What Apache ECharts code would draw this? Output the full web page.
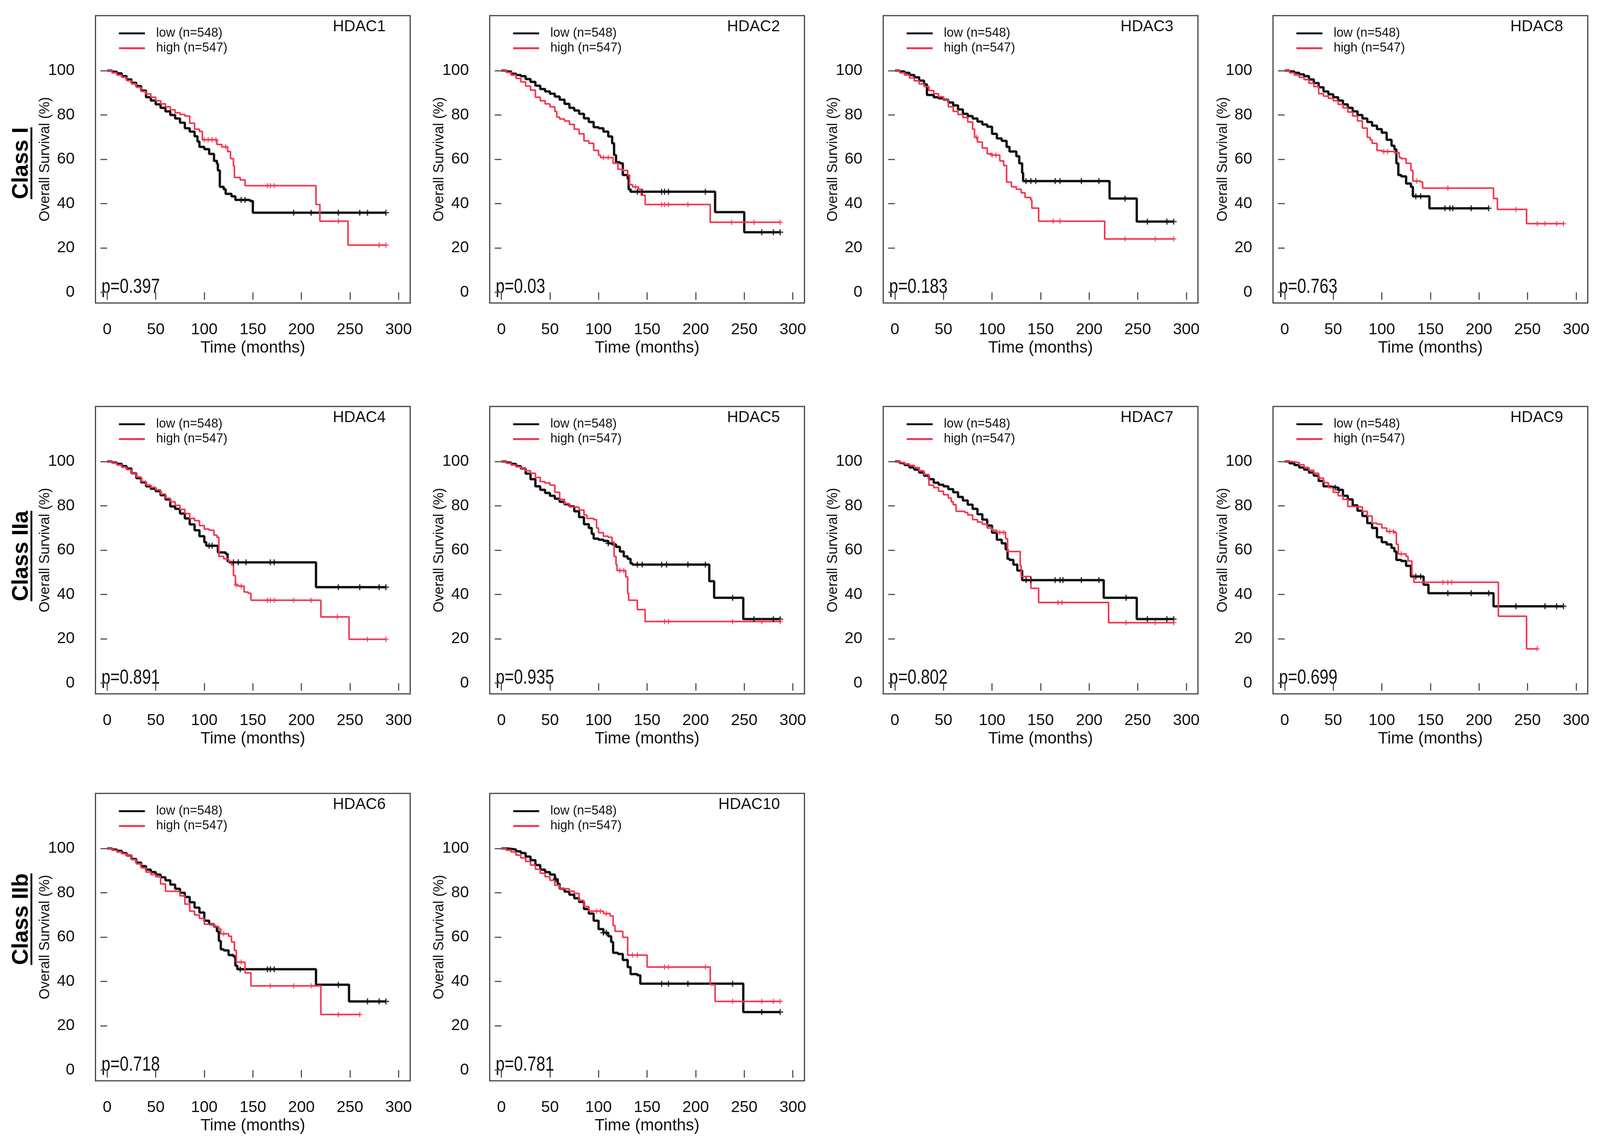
<!DOCTYPE html>
<html><head><meta charset="utf-8">
<script src="https://cdn.jsdelivr.net/npm/echarts@6/dist/echarts.min.js"></script>
<style>html,body{margin:0;padding:0;background:#fff;overflow:hidden}#c{position:absolute;left:0;top:0}</style>
</head><body><div id="c"></div>
<script>
// ---------------- DATA ----------------
const panelNames = ['HDAC1','HDAC2','HDAC3','HDAC8','HDAC4','HDAC5','HDAC7','HDAC9','HDAC6','HDAC10'];
const pValues = ['p=0.397','p=0.03','p=0.183','p=0.763','p=0.891','p=0.935','p=0.802','p=0.699','p=0.718','p=0.781'];
const classLabels = ['Class I','Class IIa','Class IIb'];
const seriesNames = ['low (n=548)','high (n=547)'];
const xTicks = [0,50,100,150,200,250,300];
const yTicks = [0,20,40,60,80,100];

const HDAC1_low = [[0,100],[5,99.5],[10,98.8],[15,97.5],[20,96],[25,94.5],[30,93],[35,91],[40,88],[45,86.5],[50,84.8],[55,83.2],[60,81.6],[65,80],[70,78.4],[75,76.5],[80,74],[85,72.5],[90,70.4],[93,68],[95,65.6],[100,64.6],[105,62.4],[110,59.3],[113,58],[114,55],[116,47.6],[120,46.5],[122,44.4],[128,43.3],[132,41.7],[147,41.2],[150,35.9],[287,35.9]];
const HDAC1_high = [[0,100],[5,99],[10,98],[15,97],[20,95.5],[25,94],[30,92.5],[35,90.6],[40,89.5],[45,88],[50,86.4],[55,85],[60,83.7],[65,82.3],[70,81],[75,80.2],[80,79.5],[85,76.3],[90,73.6],[95,72.6],[98,68.8],[113,66.7],[118,65.6],[124,63.5],[127,60.3],[130,57],[131,51.8],[137,50.7],[142,48.1],[215,39.6],[219,32.1],[248,21.3],[287,21.3]];
const HDAC1_lowCens = [138,142,192,210,238,260,268,287];
const HDAC1_highCens = [100,104,108,112,122,165,168,172,238,280,287];

const HDAC2_low = [[0,100],[5,99.6],[10,98.6],[15,98],[20,97.5],[25,96.2],[30,94.9],[35,93.2],[40,91.7],[45,90.6],[50,89.6],[55,88.3],[60,86.9],[65,85],[70,83.2],[75,82],[80,80.5],[85,78.5],[90,76.8],[95,74.5],[100,74],[105,72.5],[110,70.3],[114,67.2],[116,61.9],[118,58.7],[122,58.2],[125,52.9],[130,51.3],[131,46.5],[133,45.4],[220,36.2],[250,27.1],[287,27.1]];
const HDAC2_high = [[0,100],[5,99.2],[10,98],[15,96.5],[20,94.9],[25,93],[30,91.2],[35,88],[40,86.4],[45,85],[50,83.7],[55,81.6],[57,79],[60,78.2],[65,77.3],[70,75.7],[75,73.6],[80,71.5],[85,68.3],[90,67.2],[95,64],[100,61.9],[102,60.8],[115,58.2],[120,55.5],[125,55],[130,52.9],[132,48.6],[135,47.6],[141,46.5],[144,43.8],[148,39.6],[215,31.6],[287,31.6]];
const HDAC2_lowCens = [140,145,165,168,172,210,268,280,287];
const HDAC2_highCens = [105,110,138,165,168,172,192,237,260,287];

const HDAC3_low = [[0,100],[5,99.6],[10,99],[15,98],[20,97],[25,95.5],[30,93.8],[33,89],[40,88],[45,87.5],[50,86.9],[55,85.6],[60,84.3],[65,82.5],[70,80.5],[75,79.5],[80,78.4],[85,77],[90,75.7],[95,74.7],[100,71.5],[105,69.4],[110,68.3],[115,65.6],[118,63.5],[125,61.4],[128,58.2],[131,53.9],[132,50.2],[221,42.3],[249,31.9],[287,31.9]];
const HDAC3_high = [[0,100],[5,99],[10,98],[15,96.7],[20,95.4],[25,94],[30,92.8],[35,91],[40,89.6],[45,88.2],[50,86.9],[55,83.7],[60,81.6],[65,80.2],[70,78.9],[75,76.8],[80,73.6],[82,69.9],[85,67.8],[90,65.1],[95,62.5],[100,61.9],[108,59.3],[112,57.2],[115,49.7],[120,47.6],[125,46.5],[130,44.9],[134,42.8],[140,41.7],[141,38],[148,32.1],[216,24.1],[287,24.1]];
const HDAC3_lowCens = [135,140,145,165,170,192,210,237,260,280,287];
const HDAC3_highCens = [84,100,104,163,170,237,268,287];

const HDAC8_low = [[0,100],[5,99.6],[10,99],[15,98.3],[20,97.5],[25,96],[30,94.4],[35,92.5],[40,90.6],[45,89.3],[50,88],[55,86.5],[60,84.8],[65,83.2],[70,81.6],[75,80],[80,78.4],[85,76.8],[90,75.2],[95,73.6],[100,72],[105,68.8],[110,66.1],[113,64.5],[115,58.2],[117,52.9],[120,52.3],[125,49.1],[130,47.6],[132,43.3],[149,37.9],[210,37.9]];
const HDAC8_high = [[0,100],[5,99],[10,98],[15,97],[20,95.9],[25,94.3],[30,92.8],[35,89.6],[40,88.5],[45,87.5],[50,86.4],[55,84.8],[60,83.2],[65,81.3],[70,79.5],[75,77.3],[80,74.1],[85,69.9],[88,68.8],[90,67.2],[95,64],[100,63.5],[113,63],[118,60.8],[120,60.3],[125,58.2],[130,55],[132,50.2],[140,49.7],[142,47],[215,42.3],[219,37.4],[249,31],[287,31]];
const HDAC8_lowCens = [135,140,165,170,173,192,210];
const HDAC8_highCens = [102,106,136,168,238,260,268,280,287];

const HDAC4_low = [[0,100],[5,99.5],[10,98.9],[15,97.9],[20,96.8],[25,94.7],[30,92.5],[35,90.6],[40,88.8],[45,87.7],[50,86.6],[55,84.8],[60,82.9],[65,79.7],[70,78.6],[75,76.5],[80,74.3],[85,71.6],[90,69],[95,66.3],[100,63.6],[102,62],[114,59],[122,58.3],[124,55],[126,54.5],[215,43.3],[287,43.3]];
const HDAC4_high = [[0,100],[5,99.3],[10,98.4],[15,97.4],[20,96.3],[25,94.7],[30,93],[35,91],[40,89.3],[45,88.3],[50,87.2],[55,85.3],[60,83.4],[65,81.8],[70,80.2],[75,78.4],[80,76.5],[85,74.3],[90,73.3],[95,71.1],[100,69.5],[105,69],[110,66.8],[113,65.8],[115,57.2],[120,56.1],[125,55],[128,53.4],[130,48.6],[132,44.3],[135,43.8],[141,41.1],[145,40.6],[148,37.4],[220,29.9],[249,19.8],[287,19.8]];
const HDAC4_lowCens = [105,108,130,135,143,168,172,238,260,280,287];
const HDAC4_highCens = [133,138,165,168,172,192,210,237,268,287];

const HDAC5_low = [[0,100],[5,99.5],[10,98.9],[15,97.9],[20,96.8],[25,94.5],[30,92],[35,88.8],[40,87.2],[45,85.8],[50,84.5],[55,83.2],[60,81.8],[65,80.7],[70,79.7],[75,77.5],[80,74.9],[85,71.7],[90,70],[93,67.4],[95,65.2],[100,64.7],[105,64.2],[110,63.1],[114,62.6],[118,61.5],[122,59.4],[126,57.2],[130,56.1],[133,54],[135,53.5],[214,46],[219,38.5],[249,28.9],[287,28.9]];
const HDAC5_high = [[0,100],[5,99.2],[10,98.4],[15,97.6],[20,96.8],[25,95.8],[30,94.7],[35,92.8],[40,90.9],[45,90.3],[50,89.3],[55,86.1],[60,82.9],[65,81],[70,79.5],[78,79.2],[80,78.1],[85,75.9],[88,74.3],[95,73.8],[98,70],[100,67.9],[105,66.3],[110,65.8],[114,63.6],[116,57.2],[118,53.5],[119,50.8],[128,48],[130,40.6],[131,37.4],[140,33.2],[148,27.8],[287,27.8]];
const HDAC5_lowCens = [110,140,145,165,170,192,210,238,260,280,287];
const HDAC5_highCens = [122,126,168,172,238,268,287];

const HDAC7_low = [[0,100],[5,99.3],[10,98.4],[15,97.3],[20,96.3],[25,95],[30,93.6],[35,92],[40,90.4],[45,89.5],[50,88.8],[55,87.5],[60,86.1],[65,84],[70,82.4],[75,80.5],[80,78.6],[85,76.2],[90,73.8],[95,71.1],[100,67.9],[105,64.7],[110,63.1],[114,60.4],[116,56.1],[118,55.6],[122,53.5],[126,50.8],[131,46.5],[215,38.5],[249,28.9],[287,28.9]];
const HDAC7_high = [[0,100],[5,99.5],[10,98.9],[15,98.2],[20,97.3],[25,95.8],[30,94.1],[35,89.3],[40,88.2],[45,86.6],[50,85],[55,83.5],[58,81.8],[60,80.5],[63,77.5],[72,77],[75,75.9],[80,73.8],[85,72.7],[90,71.7],[95,70],[100,69],[105,68],[114,65.2],[116,59.4],[129,53],[130,48.1],[140,42.8],[148,36.4],[220,27.3],[287,27.3]];
const HDAC7_lowCens = [135,140,165,170,173,192,210,238,260,280,287];
const HDAC7_highCens = [108,112,168,172,238,268,287];

const HDAC9_low = [[0,100],[5,99.2],[10,98.4],[15,97.3],[20,96.3],[25,95],[30,93.6],[35,91.2],[40,88.8],[45,88.5],[50,88.2],[55,87.2],[60,84.5],[65,82.9],[70,80.2],[75,77.8],[80,75.4],[85,72.2],[90,70],[95,65.8],[100,63.6],[105,62.6],[110,61],[113,59.4],[115,55.6],[120,55.1],[125,52.9],[130,48.1],[143,44.4],[148,40.6],[215,34.7],[287,34.7]];
const HDAC9_high = [[0,100],[5,99.8],[10,99.5],[15,98.5],[20,97.3],[25,96],[30,94.7],[35,92.5],[40,90.4],[45,88.2],[50,86.1],[55,84.5],[60,82.9],[65,79.7],[72,79.5],[80,77.5],[85,75.4],[90,72.2],[95,71.7],[100,70],[105,68.4],[113,67.9],[115,62.6],[117,58.3],[125,57.2],[127,55.1],[131,48.7],[133,45.5],[220,30.2],[249,15.5],[260,15.5]];
const HDAC9_lowCens = [52,56,135,140,168,192,210,238,268,280,287];
const HDAC9_highCens = [108,112,120,163,168,172,260];

const HDAC6_low = [[0,100],[5,99.5],[10,98.9],[15,97.9],[20,96.8],[25,95.2],[30,93.6],[35,92],[40,90.4],[45,89.3],[50,88.2],[55,87],[60,85.6],[65,83.7],[70,81.8],[75,80],[80,78.1],[85,75.7],[90,73.3],[95,71.1],[100,67.4],[105,65.8],[110,64.7],[113,62.6],[115,58.3],[117,54.5],[120,54],[125,51.9],[130,51.3],[132,47.1],[134,45.5],[215,38.5],[249,31],[287,31]];
const HDAC6_high = [[0,100],[5,99.2],[10,98.4],[15,97.6],[20,96.8],[25,94.9],[30,93],[35,91.2],[40,89.3],[45,88.2],[50,87.2],[55,84],[60,80.7],[70,80.5],[75,78.6],[80,74.9],[85,71.7],[90,70],[95,68.4],[100,65.8],[110,64.7],[115,63.6],[117,61.5],[125,60.4],[128,57.8],[131,54],[133,48.7],[142,43.9],[148,38],[220,25.1],[260,25.1]];
const HDAC6_lowCens = [137,165,168,172,238,268,280,287];
const HDAC6_highCens = [120,138,168,192,210,238,260];

const HDAC10_low = [[0,100],[5,99.8],[10,99.5],[15,98.7],[20,97.9],[25,96.3],[30,94.7],[35,92.5],[40,90.4],[45,89.3],[50,88.2],[55,86.1],[58,84],[60,81.8],[65,80.5],[70,79.1],[75,77.5],[80,75.9],[85,72.7],[90,70.6],[95,67.4],[100,63.6],[105,62],[110,60.4],[113,57.8],[115,52.9],[120,52.4],[125,49.7],[130,46.5],[133,43.3],[140,42.8],[143,39],[249,26.2],[287,26.2]];
const HDAC10_high = [[0,100],[5,99.2],[10,98.4],[15,97],[20,95.7],[25,94.1],[30,92.5],[35,90.6],[40,88.8],[45,87.2],[50,85.6],[55,83.4],[60,81.8],[70,80.7],[75,79.7],[80,76.5],[85,73.8],[90,71.7],[105,70.6],[112,69.5],[115,65.2],[117,62.6],[125,59.9],[130,51.9],[150,46.5],[215,38.5],[220,31],[287,31]];
const HDAC10_lowCens = [56,105,108,165,172,192,238,268,287];
const HDAC10_highCens = [98,102,108,135,140,168,172,210,238,268,280,287];

const lowCurves = [HDAC1_low,HDAC2_low,HDAC3_low,HDAC8_low,HDAC4_low,HDAC5_low,HDAC7_low,HDAC9_low,HDAC6_low,HDAC10_low];
const highCurves = [HDAC1_high,HDAC2_high,HDAC3_high,HDAC8_high,HDAC4_high,HDAC5_high,HDAC7_high,HDAC9_high,HDAC6_high,HDAC10_high];
const lowCens = [HDAC1_lowCens,HDAC2_lowCens,HDAC3_lowCens,HDAC8_lowCens,HDAC4_lowCens,HDAC5_lowCens,HDAC7_lowCens,HDAC9_lowCens,HDAC6_lowCens,HDAC10_lowCens];
const highCens = [HDAC1_highCens,HDAC2_highCens,HDAC3_highCens,HDAC8_highCens,HDAC4_highCens,HDAC5_highCens,HDAC7_highCens,HDAC9_highCens,HDAC6_highCens,HDAC10_highCens];

// ---------------- LAYOUT / STYLE (designed for 4306x2935, scaled to viewport) ----------------
const VW = window.innerWidth || document.documentElement.clientWidth || 4306;
const VH = window.innerHeight || document.documentElement.clientHeight || 2935;
const sx = VW / 4306, sy = VH / 2935, fs = Math.min(sx, sy);
const X = v => v * sx, Y = v => v * sy, F = v => v * fs;

const COL_LEFT = [257, 1318, 2377, 3426];
const ROW_TOP = [40, 1041, 2032];
const W = 847, H = 736;
const CLASS_CY = [418, 1424, 2354];
const BLACK = '#111111', RED = '#f5354f';
const FONT = '"Liberation Sans", Arial, Helvetica, sans-serif';
const CROSS = 'path://M-1.6,-7H1.6V-1.6H7V1.6H1.6V7H-1.6V1.6H-7V-1.6H-1.6Z';

function survAt(curve, t) {
  let s = curve[0][1];
  for (const p of curve) { if (p[0] <= t) s = p[1]; else break; }
  return s;
}

const el = document.getElementById('c');
el.style.width = VW + 'px';
el.style.height = VH + 'px';

const grids = [], xAxes = [], yAxes = [], series = [], legends = [], graphics = [];
const measureCtx = document.createElement('canvas').getContext('2d');

panelNames.forEach((name, i) => {
  const row = i < 4 ? 0 : (i < 8 ? 1 : 2);
  const col = i < 8 ? i % 4 : i - 8;
  const L = COL_LEFT[col], T = ROW_TOP[row];
  grids.push({left: X(L), top: Y(T), width: X(W), height: Y(H), show: true, borderColor: '#444', borderWidth: 3,
    backgroundColor: 'transparent', containLabel: false, outerBoundsMode: 'none'});
  xAxes.push({gridIndex: i, type: 'value', min: -12, max: 312, offset: Y(6),
    axisLine: {show: false}, splitLine: {show: false},
    axisTick: {show: true, length: Y(19), lineStyle: {color: '#555', width: 3}, customValues: xTicks},
    axisLabel: {customValues: xTicks, margin: Y(42), fontSize: F(43), color: '#111', fontFamily: FONT},
    name: 'Time (months)', nameLocation: 'middle', nameGap: Y(88), nameMoveOverlap: false,
    nameTextStyle: {fontSize: F(44), color: '#111', fontFamily: FONT}});
  yAxes.push({gridIndex: i, type: 'value', min: -4.8, max: 124.8, offset: X(8),
    axisLine: {show: false}, splitLine: {show: false},
    axisTick: {show: true, length: X(18), lineStyle: {color: '#555', width: 3}, customValues: yTicks},
    axisLabel: {customValues: yTicks, margin: X(48), fontSize: F(43), color: '#111', fontFamily: FONT},
    name: 'Overall Survival (%)', nameLocation: 'middle', nameGap: X(108), nameMoveOverlap: false,
    nameTextStyle: {fontSize: F(38), color: '#111', fontFamily: FONT}});

  series.push({name: seriesNames[0], type: 'line', step: 'end', xAxisIndex: i, yAxisIndex: i,
    data: lowCurves[i], showSymbol: false, symbol: 'none', color: BLACK,
    lineStyle: {color: BLACK, width: 6}, z: 2, animation: false});
  series.push({name: seriesNames[1], type: 'line', step: 'end', xAxisIndex: i, yAxisIndex: i,
    data: highCurves[i], showSymbol: false, symbol: 'none', color: RED,
    lineStyle: {color: RED, width: 4}, z: 3, animation: false});
  series.push({name: 'low censored', type: 'scatter', xAxisIndex: i, yAxisIndex: i,
    data: lowCens[i].map(t => [t, survAt(lowCurves[i], t)]), symbol: CROSS, symbolSize: F(16),
    itemStyle: {color: BLACK}, z: 4, animation: false, silent: true});
  series.push({name: 'high censored', type: 'scatter', xAxisIndex: i, yAxisIndex: i,
    data: highCens[i].map(t => [t, survAt(highCurves[i], t)]), symbol: CROSS, symbolSize: F(14),
    itemStyle: {color: RED}, z: 5, animation: false, silent: true});

  legends.push({show: true, left: X(L + 63), top: Y(T + 28.5), orient: 'vertical', padding: 0,
    itemWidth: X(70), itemHeight: F(5), itemGap: Y(4), icon: 'rect', selectedMode: false,
    data: seriesNames,
    textStyle: {fontSize: F(34), lineHeight: Y(34), color: '#111', fontFamily: FONT, padding: [0, 0, 0, X(25)]}});

  graphics.push({type: 'text', x: X(L + W - 66), y: Y(T + 29), silent: true,
    style: {text: name, align: 'right', verticalAlign: 'middle', fontSize: F(42), fontFamily: FONT, fill: '#111'}});
  graphics.push({type: 'text', x: X(L + 16), y: Y(T + H - 40), scaleX: 0.8, silent: true,
    style: {text: pValues[i], align: 'left', verticalAlign: 'middle', fontSize: F(54), fontFamily: FONT, fill: '#111'}});
});

classLabels.forEach((txt, r) => {
  const cy = Y(CLASS_CY[r]);
  const size = F(60);
  measureCtx.font = 'bold ' + size + 'px ' + FONT;
  const len = measureCtx.measureText(txt).width;
  graphics.push({type: 'text', x: X(58), y: cy, rotation: Math.PI / 2, silent: true,
    style: {text: txt, align: 'center', verticalAlign: 'middle', fontSize: size, fontWeight: 'bold', fontFamily: FONT, fill: '#000'}});
  graphics.push({type: 'rect', silent: true, shape: {x: X(82), y: cy - len / 2, width: X(5), height: len}, style: {fill: '#000'}});
});

const chart = echarts.init(el, null, {renderer: 'canvas', width: VW, height: VH});
chart.setOption({
  backgroundColor: '#ffffff',
  animation: false,
  textStyle: {fontFamily: FONT},
  grid: grids, xAxis: xAxes, yAxis: yAxes, series: series, legend: legends, graphic: graphics
});
</script></body></html>
